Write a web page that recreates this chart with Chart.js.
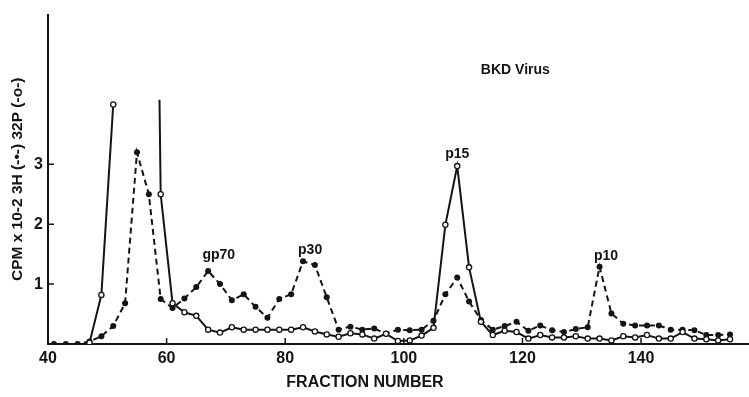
<!DOCTYPE html>
<html><head><meta charset="utf-8">
<script src="https://cdn.jsdelivr.net/npm/chart.js@4"></script>
<style>html,body{margin:0;padding:0;background:#fff;overflow:hidden}#wrap{width:749px;height:397px}canvas{display:block}</style>
</head><body><div id="wrap"><canvas id="c" width="749" height="397"></canvas></div>
<script>
// 3H (filled dots, dashed line)
const fractions3H = [41,43,45,47,49,51,53,55,57,59,61,63,65,67,69,71,73,75,77,79,81,83,85,87,89,91,93,95,97,99,101,103,105,107,109,111,113,115,117,119,121,123,125,127,129,131,133,135,137,139,141,143,145,147,149,151,153,155];
const values3H   = [0,0,0,0.04,0.13,0.3,0.68,3.2,2.5,0.75,0.6,0.76,0.95,1.22,1.0,0.73,0.83,0.62,0.44,0.75,0.83,1.38,1.32,0.78,0.24,0.29,0.24,0.26,0.17,0.24,0.23,0.24,0.39,0.83,1.11,0.71,0.4,0.24,0.3,0.37,0.22,0.31,0.23,0.2,0.25,0.28,1.29,0.51,0.34,0.31,0.31,0.31,0.24,0.24,0.23,0.15,0.15,0.16];
// 32P (open circles, solid line); the main peak runs off the top of the plot
const OFFSCALE = 4.08;
const fractions32P = [47,49,51,53,58.8,59,61,63,65,67,69,71,73,75,77,79,81,83,85,87,89,91,93,95,97,99,101,103,105,107,109,111,113,115,117,119,121,123,125,127,129,131,133,135,137,139,141,143,145,147,149,151,153,155];
const values32P   = [0.02,0.82,4.0,null,OFFSCALE,2.5,0.68,0.53,0.47,0.24,0.19,0.28,0.24,0.24,0.24,0.24,0.24,0.28,0.21,0.16,0.12,0.18,0.16,0.09,0.17,0.05,0.06,0.14,0.27,1.99,2.97,1.28,0.37,0.15,0.22,0.2,0.09,0.15,0.11,0.11,0.13,0.09,0.09,0.06,0.13,0.11,0.15,0.09,0.09,0.2,0.09,0.08,0.06,0.08];
const xTicks = [40,60,80,100,120,140];
const yTicks = [1,2,3];
const peakLabels = ['gp70','p30','p15','p10'];
const peakLabelX = [68.8,84.2,109,134.1];
const peakLabelY = [1.49,1.56,3.17,1.46];
const panelTitle = 'BKD Virus';
const panelTitleX = 118.8, panelTitleY = 4.57;

const INK = '#141414';
const FONT = '"Liberation Sans", Arial, sans-serif';

const deco = {
  id: 'deco',
  afterLayout(chart) {
    // let the plot area run to the right edge of the canvas, as in the original
    const x = chart.scales.x, a = chart.chartArea;
    a.right = chart.width; a.width = a.right - a.left;
    x.right = chart.width; x.width = x.right - x.left;
    x.configure();
  },
  afterDraw(chart) {
    const {ctx, scales: {x, y}, chartArea: a} = chart;
    ctx.save();
    ctx.strokeStyle = INK; ctx.lineWidth = 1.5;
    ctx.beginPath();
    xTicks.forEach(v => { if (v === x.min) return; const px = x.getPixelForValue(v); ctx.moveTo(px, a.bottom); ctx.lineTo(px, a.bottom - 6); });
    yTicks.forEach(v => { const py = y.getPixelForValue(v); ctx.moveTo(a.left, py); ctx.lineTo(a.left + 6, py); });
    ctx.stroke();
    ctx.fillStyle = INK;
    ctx.textAlign = 'center'; ctx.textBaseline = 'middle';
    ctx.font = 'bold 14px ' + FONT;
    peakLabels.forEach((t, i) => ctx.fillText(t, x.getPixelForValue(peakLabelX[i]), y.getPixelForValue(peakLabelY[i])));
    ctx.fillText(panelTitle, x.getPixelForValue(panelTitleX), y.getPixelForValue(panelTitleY));
    ctx.font = 'bold 16px ' + FONT;
    ctx.fillText('FRACTION NUMBER', 365, 383);
    ctx.restore();
  }
};

new Chart(document.getElementById('c'), {
  type: 'line',
  data: {
    datasets: [
      {
        label: '32P',
        data: fractions32P.map((f, i) => ({x: f, y: values32P[i]})),
        borderColor: INK, borderWidth: 2,
        pointRadius: ctx => values32P[ctx.dataIndex] === OFFSCALE ? 0 : 2.6,
        pointBackgroundColor: '#fff', pointBorderColor: INK, pointBorderWidth: 1.3,
        spanGaps: false, tension: 0, order: 0
      },
      {
        label: '3H',
        data: fractions3H.map((f, i) => ({x: f, y: values3H[i]})),
        borderColor: INK, borderWidth: 2, borderDash: [6, 4],
        pointRadius: 3, pointBackgroundColor: INK, pointBorderColor: INK, pointBorderWidth: 0,
        tension: 0, order: 1
      }
    ]
  },
  options: {
    responsive: false, animation: false, devicePixelRatio: 1,
    layout: {padding: {top: 5, right: 0, left: 0, bottom: 0}},
    plugins: {legend: {display: false}, tooltip: {enabled: false}},
    scales: {
      x: {
        type: 'linear', min: 40, max: 158.2,
        afterFit: s => { s.height = 53; s.paddingRight = 0; },
        grid: {display: false, drawTicks: false},
        border: {display: true, color: INK, width: 2},
        ticks: {stepSize: 20, includeBounds: false, padding: 5, color: INK, font: {family: FONT, size: 16, weight: 'bold'},
                callback: v => xTicks.includes(v) ? String(v) : ''}
      },
      y: {
        min: 0, max: 5.5,
        afterFit: s => { s.width = 48; },
        grid: {display: false, drawTicks: false},
        border: {display: true, color: INK, width: 2},
        ticks: {stepSize: 1, includeBounds: false, padding: 5, color: INK, font: {family: FONT, size: 16, weight: 'bold'},
                callback: v => yTicks.includes(v) ? String(v) : ''},
        title: {display: true, text: 'CPM x 10-2 3H (-\u2022-) 32P (-o-)', color: INK,
                font: {family: FONT, size: 15.5, weight: 'bold'}, padding: {top: 8, bottom: 0}}
      }
    }
  },
  plugins: [deco]
});
</script>
</body></html>
